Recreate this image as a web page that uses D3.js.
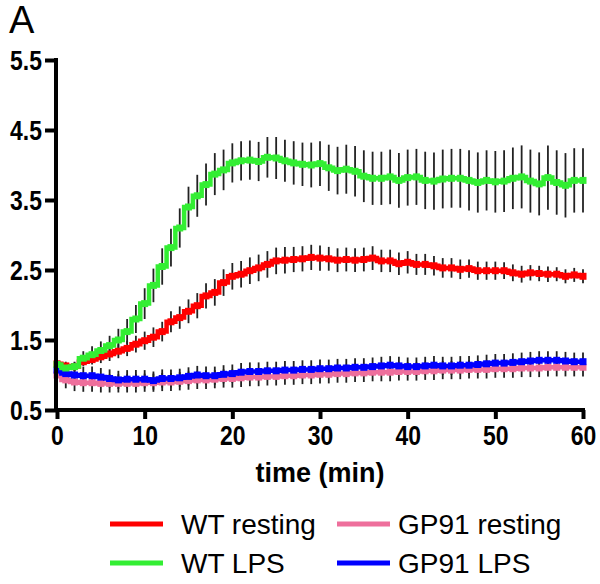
<!DOCTYPE html>
<html>
<head>
<meta charset="utf-8">
<script src="https://cdn.jsdelivr.net/npm/d3@7"></script>
<style>
  html, body { margin: 0; padding: 0; background: #fff; }
  svg { display: block; }
</style>
</head>
<body>
<svg id="chart" width="600" height="584"></svg>
<script>
// ---- data ----
const time = d3.range(0, 61); // minutes
const wtResting = [1.16,1.13,1.12,1.19,1.22,1.26,1.30,1.34,1.38,1.44,1.49,1.54,1.62,1.76,1.82,1.91,1.99,2.13,2.18,2.32,2.41,2.44,2.49,2.53,2.58,2.63,2.64,2.65,2.66,2.68,2.67,2.66,2.64,2.65,2.64,2.65,2.67,2.63,2.63,2.59,2.61,2.58,2.58,2.56,2.53,2.53,2.51,2.52,2.49,2.49,2.49,2.49,2.46,2.44,2.46,2.45,2.44,2.44,2.41,2.43,2.41];
const wtRestingErr = [0.06,0.06,0.06,0.06,0.07,0.09,0.10,0.10,0.11,0.12,0.13,0.14,0.14,0.15,0.16,0.17,0.18,0.18,0.19,0.19,0.19,0.19,0.19,0.19,0.19,0.19,0.19,0.18,0.18,0.18,0.18,0.17,0.17,0.17,0.17,0.17,0.17,0.16,0.16,0.16,0.16,0.15,0.15,0.14,0.14,0.14,0.14,0.13,0.13,0.13,0.13,0.12,0.12,0.12,0.11,0.11,0.11,0.10,0.10,0.10,0.10];
const wtLPS = [1.15,1.10,1.12,1.24,1.29,1.35,1.42,1.50,1.62,1.80,2.02,2.28,2.55,2.82,3.10,3.40,3.56,3.72,3.87,3.93,4.03,4.06,4.07,4.05,4.11,4.10,4.06,4.03,4.01,4.00,4.02,3.96,3.92,3.94,3.91,3.84,3.81,3.81,3.83,3.78,3.82,3.83,3.78,3.77,3.80,3.81,3.81,3.78,3.75,3.78,3.76,3.77,3.81,3.83,3.77,3.73,3.82,3.75,3.71,3.78,3.78];
const wtLPSErr = [0.07,0.07,0.07,0.10,0.12,0.13,0.14,0.16,0.18,0.20,0.22,0.24,0.26,0.27,0.28,0.29,0.30,0.30,0.30,0.29,0.28,0.28,0.28,0.28,0.29,0.30,0.30,0.31,0.31,0.32,0.32,0.33,0.34,0.35,0.36,0.37,0.38,0.38,0.39,0.39,0.40,0.40,0.41,0.41,0.42,0.42,0.42,0.43,0.43,0.43,0.44,0.44,0.44,0.45,0.45,0.45,0.46,0.46,0.46,0.46,0.46];
const gp91Resting = [1.00,0.93,0.90,0.89,0.89,0.88,0.88,0.88,0.88,0.88,0.89,0.89,0.90,0.90,0.91,0.92,0.93,0.93,0.94,0.95,0.95,0.96,0.97,0.97,0.98,0.98,0.99,0.99,1.00,1.00,1.01,1.01,1.02,1.02,1.03,1.03,1.04,1.04,1.04,1.05,1.05,1.05,1.06,1.06,1.07,1.07,1.07,1.08,1.08,1.08,1.09,1.09,1.09,1.10,1.10,1.10,1.11,1.11,1.11,1.11,1.11];
const gp91RestingErr = [0.10,0.12,0.13,0.13,0.13,0.13,0.13,0.13,0.13,0.13,0.13,0.13,0.13,0.13,0.13,0.13,0.13,0.13,0.13,0.13,0.13,0.13,0.13,0.13,0.13,0.13,0.13,0.13,0.13,0.13,0.13,0.13,0.13,0.13,0.13,0.13,0.13,0.13,0.13,0.13,0.13,0.13,0.13,0.13,0.13,0.13,0.13,0.13,0.13,0.13,0.13,0.13,0.13,0.13,0.13,0.13,0.13,0.13,0.13,0.13,0.13];
const gp91LPS = [1.07,1.02,1.00,0.99,0.99,0.97,0.95,0.93,0.94,0.94,0.94,0.92,0.95,0.95,0.96,0.98,1.00,0.99,0.99,1.01,1.02,1.04,1.05,1.05,1.06,1.06,1.07,1.07,1.08,1.08,1.09,1.09,1.10,1.10,1.11,1.11,1.12,1.13,1.14,1.13,1.12,1.12,1.13,1.14,1.13,1.13,1.14,1.14,1.15,1.16,1.17,1.17,1.18,1.19,1.20,1.21,1.21,1.21,1.20,1.19,1.19];
const gp91LPSErr = [0.08,0.10,0.12,0.13,0.13,0.13,0.13,0.13,0.13,0.13,0.13,0.13,0.13,0.13,0.13,0.13,0.13,0.13,0.13,0.13,0.13,0.13,0.13,0.13,0.13,0.13,0.13,0.13,0.13,0.13,0.13,0.13,0.13,0.13,0.13,0.13,0.13,0.13,0.13,0.13,0.13,0.13,0.13,0.13,0.13,0.13,0.13,0.13,0.13,0.13,0.13,0.13,0.13,0.13,0.13,0.13,0.13,0.13,0.13,0.13,0.13];

const xTicks = [0, 10, 20, 30, 40, 50, 60];
const yTicks = [0.5, 1.5, 2.5, 3.5, 4.5, 5.5];
const seriesNames = ["WT resting", "WT LPS", "GP91 resting", "GP91 LPS"];
const seriesColors = ["#ff0000", "#33ee33", "#ee6f9c", "#0000ff"];

// ---- build ----
const series = [
  {name: seriesNames[0], color: seriesColors[0], v: wtResting, e: wtRestingErr},
  {name: seriesNames[1], color: seriesColors[1], v: wtLPS, e: wtLPSErr},
  {name: seriesNames[2], color: seriesColors[2], v: gp91Resting, e: gp91RestingErr},
  {name: seriesNames[3], color: seriesColors[3], v: gp91LPS, e: gp91LPSErr}
].map(s => ({...s, pts: time.map((t, i) => ({t, v: s.v[i], e: s.e[i]}))}));

const svg = d3.select("#chart");
const x = d3.scaleLinear().domain([0, 60]).range([57, 583]);
const y = d3.scaleLinear().domain([0.5, 5.5]).range([410, 60]);
const axisFont = "'Liberation Sans', Arial, Helvetica, sans-serif";

// panel label
svg.append("text").attr("x", 9).attr("y", 33)
  .style("font-family", axisFont)
  .style("font-size", "38px").text("A");

// error bars
[2, 3, 0, 1].forEach(k => {
  const s = series[k];
  svg.append("g").selectAll("line").data(s.pts).join("line")
    .attr("x1", d => x(d.t)).attr("x2", d => x(d.t))
    .attr("y1", d => y(d.v - d.e)).attr("y2", d => y(d.v + d.e))
    .attr("stroke", "#222").attr("stroke-width", 1.8);
});

// lines + markers
const lineGen = d3.line().x(d => x(d.t)).y(d => y(d.v)).curve(d3.curveStep);
[2, 3, 0, 1].forEach(k => {
  const s = series[k];
  svg.append("path").datum(s.pts).attr("d", lineGen)
    .attr("fill", "none").attr("stroke", s.color).attr("stroke-width", 4.5)
    .attr("stroke-linejoin", "miter");
  svg.append("g").selectAll("rect").data(s.pts).join("rect")
    .attr("x", d => x(d.t) - 3.5).attr("y", d => y(d.v) - 3.5)
    .attr("width", 7).attr("height", 7).attr("fill", s.color);
});

// axes
const yAxis = svg.append("g").attr("transform", "translate(56,0)")
  .call(d3.axisLeft(y).tickValues(yTicks).tickFormat(d3.format(".1f")).tickSize(11).tickPadding(3));
const xAxis = svg.append("g").attr("transform", "translate(0,410)")
  .call(d3.axisBottom(x).tickValues(xTicks).tickFormat(d3.format("d")).tickSize(9).tickPadding(6));

[yAxis, xAxis].forEach(g => {
  g.select(".domain").remove();
  g.selectAll(".tick line").attr("stroke", "#000").attr("stroke-width", 4);
  g.selectAll(".tick text")
    .style("font-family", axisFont).style("font-weight", "bold")
    .style("font-size", "27px").attr("fill", "#000")
    .each(function() {
      const w = this.getComputedTextLength();
      d3.select(this).attr("textLength", w * 0.85).attr("lengthAdjust", "spacingAndGlyphs");
    });
});
yAxis.selectAll(".tick text").attr("dy", "0.36em");
xAxis.selectAll(".tick text").attr("dy", "0.74em");

// axis lines (drawn on top)
svg.append("line").attr("x1", 56).attr("x2", 56).attr("y1", y(5.5) - 2).attr("y2", 412)
  .attr("stroke", "#000").attr("stroke-width", 4);
svg.append("line").attr("x1", 54).attr("x2", 585).attr("y1", 410).attr("y2", 410)
  .attr("stroke", "#000").attr("stroke-width", 4);

// axis title
svg.append("text").attr("x", 320).attr("y", 482).attr("text-anchor", "middle")
  .style("font-family", axisFont).style("font-weight", "bold").style("font-size", "27px")
  .text("time (min)");

// legend
const legendPos = [
  {lx: 110, tx: 181, y: 524},
  {lx: 110, tx: 181, y: 563},
  {lx: 337, tx: 398, y: 524},
  {lx: 337, tx: 398, y: 563}
];
const leg = svg.append("g").selectAll("g").data(series).join("g");
leg.append("line")
  .attr("x1", (d, i) => legendPos[i].lx).attr("x2", (d, i) => legendPos[i].lx + 53)
  .attr("y1", (d, i) => legendPos[i].y).attr("y2", (d, i) => legendPos[i].y)
  .attr("stroke", d => d.color).attr("stroke-width", 5);
leg.append("text")
  .attr("x", (d, i) => legendPos[i].tx).attr("y", (d, i) => legendPos[i].y + 10)
  .style("font-family", axisFont).style("font-size", "28px")
  .text(d => d.name);
</script>
</body>
</html>
